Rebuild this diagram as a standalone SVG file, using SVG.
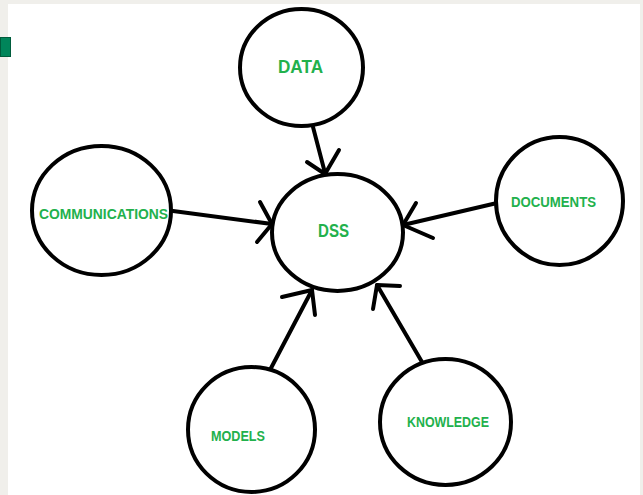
<svg xmlns="http://www.w3.org/2000/svg" width="643" height="495" viewBox="0 0 643 495">
<style>
.node{fill:#ffffff;stroke:#000000;stroke-width:4}
.lbl{font-family:"Liberation Sans",Arial,sans-serif;font-weight:bold;fill:#22b14c;text-anchor:middle}
.conn{fill:none;stroke:#000000;stroke-width:4;stroke-linecap:round;stroke-linejoin:round}
</style>
<rect x="0" y="0" width="643" height="495" fill="#f0efeb"/>
<rect x="8" y="4" width="632" height="491" fill="#ffffff"/>
<rect x="0.5" y="37.5" width="10" height="19" fill="#00855a" stroke="#005c3c" stroke-width="1"/>
<g id="connectors">
<polyline class="conn" points="313,127 325,173"/>
<polyline class="conn" points="307,162 325,174 339,150"/>
<polyline class="conn" points="173,211 272,224"/>
<polyline class="conn" points="260,202 272,224 257,242"/>
<polyline class="conn" points="497,203 403,225"/>
<polyline class="conn" points="416,203 403,225 433,238"/>
<polyline class="conn" points="270,370 312,290"/>
<polyline class="conn" points="282,297 312,290 315,315"/>
<polyline class="conn" points="422,362 377,285"/>
<polyline class="conn" points="400,286 377,285 373,309"/>
</g>
<g id="data">
<ellipse class="node" cx="301.5" cy="67.5" rx="61.5" ry="58.5"/>
<text class="lbl" x="300.5" y="73" font-size="18" textLength="45" lengthAdjust="spacingAndGlyphs">DATA</text>
</g>
<g id="dss">
<ellipse class="node" cx="337.5" cy="232.5" rx="65.5" ry="58.5"/>
<text class="lbl" x="333.5" y="237" font-size="19" font-weight="normal" textLength="31" lengthAdjust="spacingAndGlyphs">DSS</text>
</g>
<g id="communications">
<ellipse class="node" cx="101.5" cy="210.5" rx="69.5" ry="64.5"/>
<text class="lbl" x="103.5" y="219" font-size="14" textLength="129" lengthAdjust="spacingAndGlyphs">COMMUNICATIONS</text>
</g>
<g id="documents">
<ellipse class="node" cx="559.5" cy="201" rx="63.5" ry="64"/>
<text class="lbl" x="553.5" y="207" font-size="14" textLength="85" lengthAdjust="spacingAndGlyphs">DOCUMENTS</text>
</g>
<g id="models">
<ellipse class="node" cx="251.5" cy="429.5" rx="63.5" ry="62.5"/>
<text class="lbl" x="238" y="441" font-size="14" textLength="54" lengthAdjust="spacingAndGlyphs">MODELS</text>
</g>
<g id="knowledge">
<ellipse class="node" cx="445.5" cy="422" rx="65.5" ry="63"/>
<text class="lbl" x="448" y="427" font-size="14" textLength="82" lengthAdjust="spacingAndGlyphs">KNOWLEDGE</text>
</g>
</svg>
